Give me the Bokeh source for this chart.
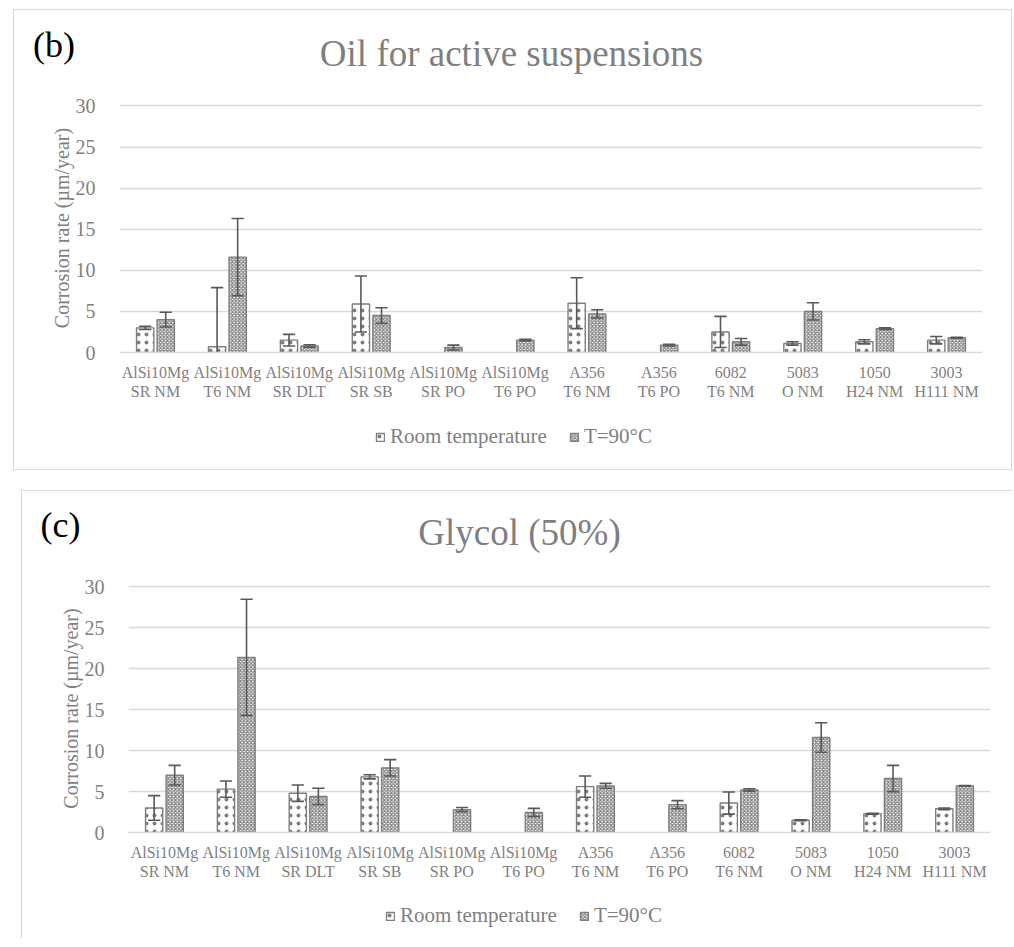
from bokeh.plotting import figure
from bokeh.layouts import column
from bokeh.models import FixedTicker, Legend, LegendItem, Range1d
from bokeh.core.properties import value
from bokeh.embed import file_html
from bokeh.resources import INLINE

# ---------------- data ----------------
categories = ["AlSi10Mg\nSR NM", "AlSi10Mg\nT6 NM", "AlSi10Mg\nSR DLT", "AlSi10Mg\nSR SB",
              "AlSi10Mg\nSR PO", "AlSi10Mg\nT6 PO", "A356\nT6 NM", "A356\nT6 PO",
              "6082\nT6 NM", "5083\nO NM", "1050\nH24 NM", "3003\nH111 NM"]
series_names = ["Room temperature", "T=90°C"]

oil_rt = [3.0, 0.7, 1.5, 5.9, None, None, 6.0, None, 2.5, 1.1, 1.3, 1.5]
oil_rt_err = [0.2, 7.2, 0.7, 3.4, None, None, 3.1, None, 1.9, 0.2, 0.25, 0.45]
oil_90 = [4.0, 11.6, 0.8, 4.5, 0.6, 1.5, 4.7, 0.9, 1.3, 5.0, 2.9, 1.8]
oil_90_err = [0.9, 4.7, 0.15, 0.95, 0.3, 0.1, 0.5, 0.1, 0.4, 1.05, 0.1, 0.05]

gly_rt = [3.0, 5.3, 4.8, 6.8, None, None, 5.6, None, 3.6, 1.5, 2.3, 2.9]
gly_rt_err = [1.5, 1.0, 1.0, 0.25, None, None, 1.3, None, 1.35, 0.05, 0.05, 0.1]
gly_90 = [7.0, 21.4, 4.4, 7.9, 2.8, 2.45, 5.7, 3.4, 5.2, 11.6, 6.6, 5.7]
gly_90_err = [1.2, 7.1, 1.0, 1.0, 0.25, 0.5, 0.3, 0.5, 0.15, 1.8, 1.6, 0.05]

y_ticks = [0, 5, 10, 15, 20, 25, 30]

FONT = "Liberation Serif"
GRID = "#d9d9d9"
TXT = "#7f7f7f"
BAR_LINE = "#7f7f7f"
ERR = "#595959"
OFFSET = 0.143
BAR_W = 0.24
CAP = 0.085
NAN = float("nan")

RT_STYLE = dict(fill_color="white", line_color=BAR_LINE, line_width=1.4,
                hatch_pattern="dot", hatch_color=BAR_LINE, hatch_scale=8, hatch_weight=1.3)
HOT_STYLE = dict(fill_color="white", line_color=BAR_LINE, line_width=1.4,
                 hatch_pattern="diagonal_cross", hatch_color=BAR_LINE, hatch_scale=3.6,
                 hatch_weight=1.2)


def blank(width, height):
    p = figure(width=width, height=height, x_range=Range1d(0, width),
               y_range=Range1d(0, height), x_axis_type=None, y_axis_type=None,
               output_backend="svg", toolbar_location=None, frame_align=False,
               min_border_left=0, min_border_right=0, min_border_top=0, min_border_bottom=0)
    p.outline_line_color = None
    p.grid.grid_line_color = None
    return p


def error_bars(p, xs, vals, errs):
    x0, y0, x1, y1 = [], [], [], []
    for x, v, e in zip(xs, vals, errs):
        if v is None:
            continue
        lo, hi = v - e, v + e
        x0 += [x, x - CAP, x - CAP]
        x1 += [x, x + CAP, x + CAP]
        y0 += [lo, hi, lo]
        y1 += [hi, hi, lo]
    p.segment(x0=x0, y0=y0, x1=x1, y1=y1, line_color=ERR, line_width=1.6)


def panel(tag, title, rt, rt_err, hot, hot_err, width, heights, mb, margin, styles,
          title_xy, tag_xy, legend_xy):
    hh, bh, fh = heights
    # header with tag and title
    head = blank(width, hh)
    head.text(x=[title_xy[0]], y=[title_xy[1]], text=[title], text_font=value(FONT),
              text_font_size="37px", text_color=TXT, text_align="center",
              text_baseline="middle")
    head.text(x=[tag_xy[0]], y=[tag_xy[1]], text=[tag], text_font=value(FONT),
              text_font_size="36px", text_color="black", text_align="center",
              text_baseline="middle")

    # bar chart
    p = figure(width=width, height=bh, x_range=Range1d(-0.5, 11.5),
               y_range=Range1d(0, 30.3), output_backend="svg", toolbar_location=None,
               frame_align=False,
               min_border_left=mb[0], min_border_right=mb[1], min_border_top=mb[2],
               min_border_bottom=mb[3])
    p.outline_line_color = None
    n = len(categories)
    xs_rt = [i - OFFSET for i in range(n)]
    xs_hot = [i + OFFSET for i in range(n)]
    rx = [x for x, v in zip(xs_rt, rt) if v is not None]
    rv = [v for v in rt if v is not None]
    p.vbar(x=rx, top=rv, bottom=0, width=BAR_W, **RT_STYLE)
    p.vbar(x=xs_hot, top=hot, bottom=0, width=BAR_W, **HOT_STYLE)
    error_bars(p, xs_rt, rt, rt_err)
    error_bars(p, xs_hot, hot, hot_err)

    p.xaxis.ticker = FixedTicker(ticks=list(range(n)))
    p.xaxis.major_label_overrides = {i: c for i, c in enumerate(categories)}
    p.xaxis.axis_line_color = GRID
    p.xaxis.axis_line_width = 1.5
    p.xaxis.major_tick_line_color = None
    p.xaxis.minor_tick_line_color = None
    p.xaxis.major_label_text_font = FONT
    p.xaxis.major_label_text_font_size = "16px"
    p.xaxis.major_label_text_color = TXT
    p.xaxis.major_label_text_line_height = 1.15
    p.xaxis.major_label_standoff = 5
    p.xgrid.grid_line_color = None

    p.yaxis.ticker = FixedTicker(ticks=y_ticks)
    p.yaxis.axis_line_color = None
    p.yaxis.major_tick_line_color = None
    p.yaxis.minor_tick_line_color = None
    p.yaxis.major_label_text_font = FONT
    p.yaxis.major_label_text_font_size = "20px"
    p.yaxis.major_label_text_color = TXT
    p.yaxis.major_label_standoff = 18
    p.yaxis.axis_label = "Corrosion rate (µm/year)"
    p.yaxis.axis_label_text_font = FONT
    p.yaxis.axis_label_text_font_size = "20px"
    p.yaxis.axis_label_text_font_style = "normal"
    p.yaxis.axis_label_text_color = TXT
    p.yaxis.axis_label_standoff = 0
    p.ygrid.grid_line_color = GRID
    p.ygrid.grid_line_width = 1.3

    # footer with legend (legend glyphs from renderers holding a single NaN point)
    foot = blank(width, fh)
    l1 = foot.vbar(x=[NAN], top=[NAN], width=1, **RT_STYLE)
    l2 = foot.vbar(x=[NAN], top=[NAN], width=1, **HOT_STYLE)
    legend = Legend(items=[LegendItem(label=series_names[0], renderers=[l1]),
                           LegendItem(label=series_names[1], renderers=[l2])],
                    orientation="horizontal", location=legend_xy,
                    label_text_font=FONT, label_text_font_size="21px",
                    label_text_color=TXT, glyph_width=10, glyph_height=10,
                    label_standoff=5, spacing=22, padding=0, margin=0,
                    border_line_color=None, background_fill_alpha=0,
                    label_height=24)
    foot.add_layout(legend, "center")

    return column(head, p, foot, margin=margin, styles=styles)


panel1 = panel("(b)", "Oil for active suspensions", oil_rt, oil_rt_err, oil_90, oil_90_err,
               width=997, heights=(80, 320, 59), mb=(105, 29, 13, 58), margin=(9, 0, 0, 13),
               styles={"border": "1px solid #d9d9d9"},
               title_xy=(497, 37.5), tag_xy=(39.5, 46), legend_xy=(361, 20))
panel2 = panel("(c)", "Glycol (50%)", gly_rt, gly_rt_err, gly_90, gly_90_err,
               width=990, heights=(80, 319, 48), mb=(106, 22, 13, 58), margin=(20, 0, 0, 21),
               styles={"border-top": "1px solid #d9d9d9", "border-left": "1px solid #d9d9d9"},
               title_xy=(497, 39.5), tag_xy=(38, 47), legend_xy=(363, 10))

layout = column(panel1, panel2)
open("out.html", "w").write(file_html(layout, INLINE))
